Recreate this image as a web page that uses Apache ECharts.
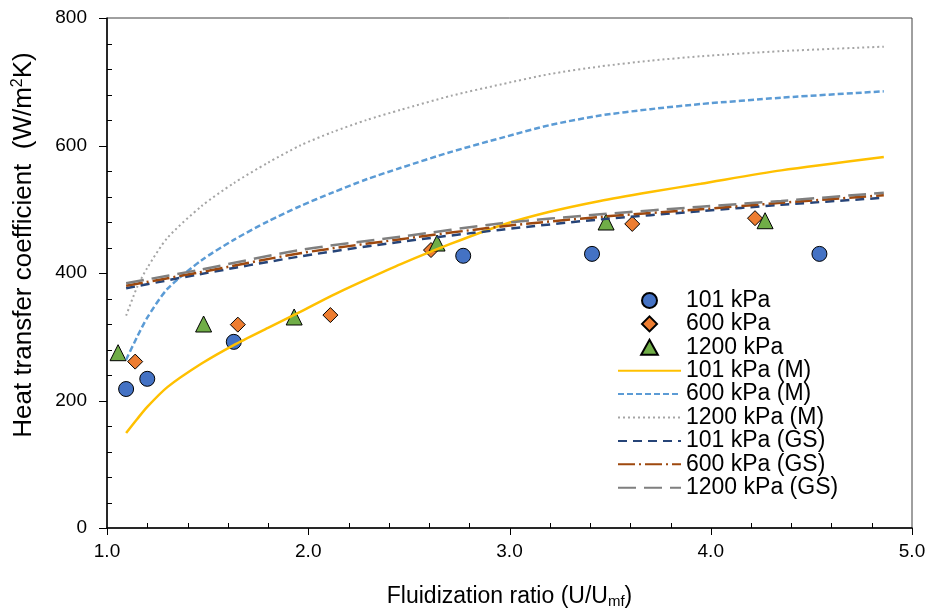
<!DOCTYPE html>
<html>
<head>
<meta charset="utf-8">
<script src="https://cdn.jsdelivr.net/npm/echarts@6/dist/echarts.min.js"></script>
<style>
html,body{margin:0;padding:0;background:#fff;}
#chart{width:930px;height:614px;}
</style>
</head>
<body>
<div id="chart"></div>
<script>
// ---- data ----
var xTicks = [1.0, 2.0, 3.0, 4.0, 5.0];
var yTicks = [0, 200, 400, 600, 800];
var xMinorStep = 0.2;
var yMinorStep = 40;

var exp101 = [[1.095, 218], [1.2, 234], [1.63, 292], [2.77, 427], [3.41, 430], [4.54, 430]];
var exp600 = [[1.14, 261], [1.65, 319], [2.11, 334], [2.61, 436], [3.61, 477], [4.22, 486]];
var exp1200 = [[1.055, 275], [1.48, 320], [1.93, 331], [2.64, 447], [3.48, 480], [4.27, 482]];

var xM = [1.095, 1.15, 1.2, 1.3, 1.47, 1.63, 1.8, 1.96, 2.12, 2.29, 2.46, 2.71, 2.96, 3.2, 3.45, 3.7, 3.95, 4.35, 4.86];
var m101 = [149, 171, 190, 221, 258, 287, 314, 339, 365, 390, 414, 446, 475, 496, 513, 527, 540, 561, 582];
var m600 = [264, 300, 330, 375, 420, 452, 481, 505, 526, 547, 565, 590, 612, 632, 647, 657, 665, 675, 685];
var m1200 = [333, 378, 408, 455, 505, 541, 573, 600, 621, 640, 656, 678, 696, 712, 724, 733, 740, 748, 755];

var xGS = [1.095, 1.46, 1.96, 2.46, 2.96, 3.45, 3.95, 4.35, 4.86];
var gs101 = [376, 398, 426, 449, 468, 484, 497, 507, 518];
var gs600 = [380, 401, 431, 453, 473, 488, 500, 510, 522];
var gs1200 = [384, 405, 436, 457, 478, 492, 504, 513, 526];

var legendNames = ['101 kPa', '600 kPa', '1200 kPa', '101 kPa (M)', '600 kPa (M)', '1200 kPa (M)', '101 kPa (GS)', '600 kPa (GS)', '1200 kPa (GS)'];

function pairs(xs, ys) { return xs.map(function (x, i) { return [x, ys[i]]; }); }

var FONT = 'Liberation Sans, Arial, sans-serif';
var chart = echarts.init(document.getElementById('chart'), null, {renderer: 'canvas'});

var ICON_DIAMOND = 'path://M0,-10L10,0L0,10L-10,0Z';
var ICON_TRIANGLE = 'path://M0,-10L10,8L-10,8Z';

var legendData = legendNames.map(function (n, i) {
  if (i === 0) return {name: n, icon: 'circle'};
  if (i === 1) return {name: n, icon: ICON_DIAMOND};
  if (i === 2) return {name: n, icon: ICON_TRIANGLE};
  return {name: n, itemStyle: {opacity: 0, borderWidth: 0}};
});

var xMin = xTicks[0], xMax = xTicks[xTicks.length - 1];
var yMin = yTicks[0], yMax = yTicks[yTicks.length - 1];

var option = {
  backgroundColor: '#fff',
  animation: false,
  grid: {left: 107, top: 18, width: 805, height: 510, show: true, borderColor: '#404040', borderWidth: 1, backgroundColor: 'transparent'},
  xAxis: {
    type: 'value', min: xMin, max: xMax, interval: 1, position: 'bottom',
    axisLine: {show: true, onZero: false, lineStyle: {color: '#000', width: 1.5}},
    axisTick: {show: false},
    axisLabel: {fontFamily: FONT, fontSize: 19, color: '#000', margin: 14, formatter: function (v) { return v.toFixed(1); }},
    splitLine: {show: false},
    name: '{a|Fluidization ratio (U/U}{s|mf}{a|)}',
    nameLocation: 'middle', nameGap: 56,
    nameTextStyle: {rich: {
      a: {fontFamily: FONT, fontSize: 23, color: '#000'},
      s: {fontFamily: FONT, fontSize: 15, color: '#000', padding: [10, 0, 0, 0]}
    }}
  },
  yAxis: {
    type: 'value', min: yMin, max: yMax, interval: 200, position: 'left',
    axisLine: {show: true, onZero: false, lineStyle: {color: '#000', width: 1.5}},
    axisTick: {show: false},
    axisLabel: {fontFamily: FONT, fontSize: 19, color: '#000', margin: 20},
    splitLine: {show: false},
    name: '{a|Heat transfer coefficient  (W/m}{p|2}{a|K)}',
    nameLocation: 'middle', nameGap: 70, nameRotate: 90,
    nameTextStyle: {padding: [0, 0, 0, 56], rich: {
      a: {fontFamily: FONT, fontSize: 26, color: '#000'},
      p: {fontFamily: FONT, fontSize: 16, color: '#000', padding: [0, 0, 11, 0]}
    }}
  },
  legend: {
    orient: 'vertical', left: 617, top: 289, padding: 0,
    itemWidth: 63, itemHeight: 15, itemGap: 0.4,
    textStyle: {fontFamily: FONT, fontSize: 23, color: '#000'},
    data: legendData
  },
  series: [
    {name: '101 kPa', type: 'scatter', data: exp101, symbol: 'circle', symbolSize: 15,
      itemStyle: {color: '#4472C4', borderColor: '#000', borderWidth: 1, opacity: 1}},
    {name: '600 kPa', type: 'scatter', data: exp600, symbol: 'diamond', symbolSize: 15,
      itemStyle: {color: '#ED7D31', borderColor: '#000', borderWidth: 1, opacity: 1}},
    {name: '1200 kPa', type: 'scatter', data: exp1200, symbol: 'triangle', symbolSize: 16,
      itemStyle: {color: '#70AD47', borderColor: '#000', borderWidth: 1, opacity: 1}},
    {name: '101 kPa (M)', type: 'line', data: pairs(xM, m101), showSymbol: false, smooth: 0.25,
      lineStyle: {color: '#FFC000', width: 2.5, type: 'solid'}, itemStyle: {color: '#FFC000'}},
    {name: '600 kPa (M)', type: 'line', data: pairs(xM, m600), showSymbol: false, smooth: 0.25,
      lineStyle: {color: '#5B9BD5', width: 2.5, type: [6, 3]}, itemStyle: {color: '#5B9BD5'}},
    {name: '1200 kPa (M)', type: 'line', data: pairs(xM, m1200), showSymbol: false, smooth: 0.25,
      lineStyle: {color: '#A5A5A5', width: 2, type: [2, 3]}, itemStyle: {color: '#A5A5A5'}},
    {name: '101 kPa (GS)', type: 'line', data: pairs(xGS, gs101), showSymbol: false, smooth: 0.3,
      lineStyle: {color: '#264478', width: 2.5, type: [9, 6]}, itemStyle: {color: '#264478'}},
    {name: '600 kPa (GS)', type: 'line', data: pairs(xGS, gs600), showSymbol: false, smooth: 0.3,
      lineStyle: {color: '#9E480E', width: 2.5, type: [17, 4, 2, 4]}, itemStyle: {color: '#9E480E'}},
    {name: '1200 kPa (GS)', type: 'line', data: pairs(xGS, gs1200), showSymbol: false, smooth: 0.3,
      lineStyle: {color: '#7F7F7F', width: 2.5, type: [18, 8]}, itemStyle: {color: '#7F7F7F'}}
  ]
};
chart.setOption(option);

// Tick marks placed through the chart's own axis scales:
// major ticks point outward, minor ticks point into the plot.
(function () {
  var els = [];
  var yBase = chart.convertToPixel({yAxisIndex: 0}, yMin);
  var xBase = chart.convertToPixel({xAxisIndex: 0}, xMin);
  function tickLine(x1, y1, x2, y2) {
    return {type: 'line', silent: true, z: 10,
      shape: {x1: x1, y1: y1, x2: x2, y2: y2},
      style: {stroke: '#000', lineWidth: 1}};
  }
  var nx = Math.round((xMax - xMin) / xMinorStep);
  for (var i = 0; i <= nx; i++) {
    var xv = xMin + i * xMinorStep;
    var px = Math.round(chart.convertToPixel({xAxisIndex: 0}, xv)) + 0.5;
    if (i % 5 === 0) els.push(tickLine(px, yBase, px, yBase + 7));
    else els.push(tickLine(px, yBase, px, yBase - 5));
  }
  var ny = Math.round((yMax - yMin) / yMinorStep);
  for (var j = 0; j <= ny; j++) {
    var yv = yMin + j * yMinorStep;
    var py = Math.round(chart.convertToPixel({yAxisIndex: 0}, yv)) + 0.5;
    if (j % 5 === 0) els.push(tickLine(xBase - 8, py, xBase, py));
    else els.push(tickLine(xBase, py, xBase + 5, py));
  }
  chart.setOption({graphic: {elements: els}});
})();
</script>
</body>
</html>
